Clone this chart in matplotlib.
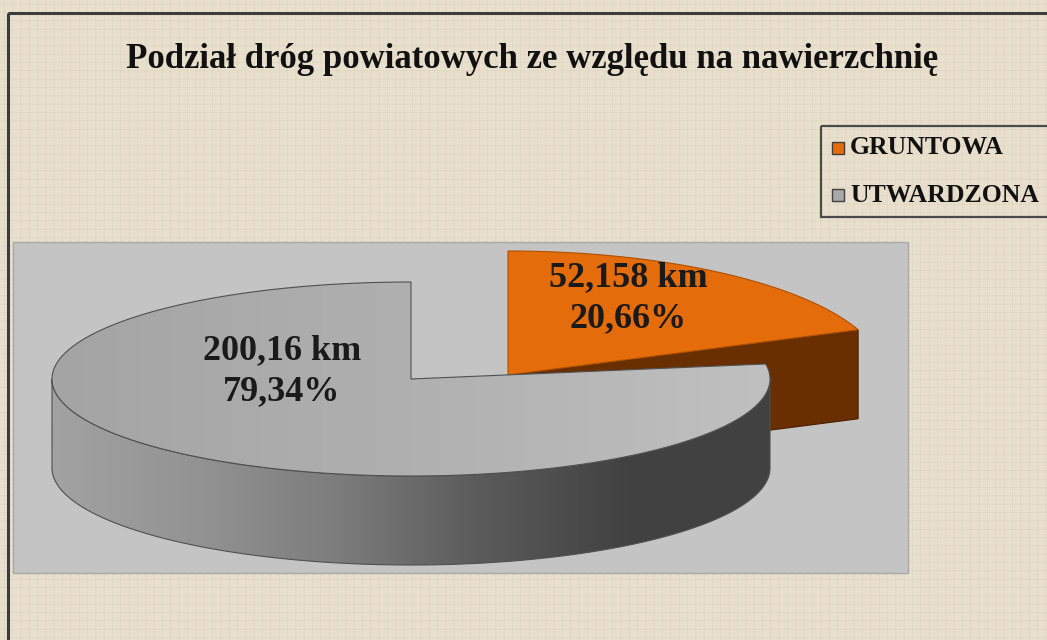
import matplotlib
matplotlib.use("Agg")
import matplotlib.pyplot as plt
import numpy as np
from matplotlib.patches import Polygon, Rectangle
from matplotlib.colors import LinearSegmentedColormap

title = "Podział dróg powiatowych ze względu na nawierzchnię"
categories = ["GRUNTOWA", "UTWARDZONA"]
lengths_km = [52.158, 200.16]
shares_pct = [20.66, 79.34]
slice_colors = ["#e46c0a", "#a8a8a8"]

# layout in pixel units (axes spans the whole figure)
W, H = 1047, 640
fig = plt.figure(figsize=(W / 100, H / 100), dpi=100)
fig.patch.set_facecolor("#e8dfcc")
ax = fig.add_axes([0, 0, 1, 1])
ax.set_xlim(0, W)
ax.set_ylim(H, 0)
ax.axis("off")

# faint linen texture + outer frame
plt.rcParams["hatch.linewidth"] = 0.5
ax.add_patch(Rectangle((0, 0), W, H, facecolor="none", edgecolor="#e0d5c1",
                       hatch="++", lw=0, zorder=0))
ax.add_patch(Rectangle((8, 13), 1200, 800, facecolor="none",
                       edgecolor="#3c3c3c", lw=2.2, zorder=1))

# plot area
ax.add_patch(Rectangle((13, 242), 895, 331, facecolor="#c4c4c4",
                       edgecolor="#a8a8a8", lw=1, zorder=2))

ax.text(532, 59, title, ha="center", va="center", fontsize=25,
        fontweight="bold", family="Liberation Serif", color="#111111", zorder=5)


def ellipse_pts(cx, cy, a, b, t0, t1, skew=1.0, n=240):
    # skew mimics the perspective distortion of the 3-D view
    t = np.radians(np.linspace(t0, t1, n))
    t = np.arctan2(np.sin(t) * skew, np.cos(t))
    t = np.unwrap(t)
    return np.column_stack([cx + a * np.cos(t), cy - b * np.sin(t)])


# slice angles: start at 12 o'clock, clockwise
fracs = np.array(shares_pct) / sum(shares_pct)
start = 90.0
ang = []
for f in fracs:
    ang.append((start, start - 360 * f))
    start -= 360 * f

depth = 89

# ---- exploded slice (GRUNTOWA) ----
ocx, ocy, oa, ob, osk = 508, 375, 376, 124, 1.4
t0, t1 = ang[0]
corner = ellipse_pts(ocx, ocy, oa, ob, t1, t1, osk, 1)[0]
side = [(ocx, ocy), corner, (corner[0], corner[1] + depth), (ocx, ocy + depth)]
ax.add_patch(Polygon(side, closed=True, facecolor="#6a2f00",
                     edgecolor="#4a2000", lw=0.8, zorder=3))
top = np.vstack([[ocx, ocy], ellipse_pts(ocx, ocy, oa, ob, t0, t1, osk)])
ax.add_patch(Polygon(top, closed=True, facecolor=slice_colors[0],
                     edgecolor="#b05000", lw=0.8, zorder=4))

# ---- main slice (UTWARDZONA) ----
gcx, gcy, ga, gb, gsk = 411, 379, 359, 97, 0.56
t0, t1 = ang[1]
front_top = ellipse_pts(gcx, gcy, ga, gb, -180, 0)
front_bot = front_top[::-1] + [0, depth]
side_poly = Polygon(np.vstack([front_top, front_bot]), closed=True,
                    facecolor="none", edgecolor="#505050", lw=0.8, zorder=7)
ax.add_patch(side_poly)
side_cmap = LinearSegmentedColormap.from_list(
    "side", ["#a2a2a2", "#939393", "#7c7c7c", "#5a5a5a", "#424242", "#414141"])
grad = np.linspace(0, 1, 256).reshape(1, -1)
im = ax.imshow(grad, cmap=side_cmap, aspect="auto",
               extent=(gcx - ga, gcx + ga, gcy + gb + depth, gcy - gb), zorder=6)
im.set_clip_path(side_poly)

top_pts = np.vstack([[gcx, gcy], ellipse_pts(gcx, gcy, ga, gb, t0, t1, gsk)])
top_poly = Polygon(top_pts, closed=True, facecolor="none",
                   edgecolor="#505050", lw=0.8, zorder=9)
ax.add_patch(top_poly)
top_cmap = LinearSegmentedColormap.from_list("top", ["#a4a4a4", "#b0b0b0", "#c0c0c0"])
im2 = ax.imshow(grad, cmap=top_cmap, aspect="auto",
                extent=(gcx - ga, gcx + ga, gcy + gb, gcy - gb), zorder=8)
im2.set_clip_path(top_poly)


# data labels
def fmt(v):
    return str(v).replace(".", ",")


lab_pos = [(628, 298), (282, 371)]
for (x, y), km, p in zip(lab_pos, lengths_km, shares_pct):
    ax.text(x, y, f"{fmt(km)} km\n{p:.2f}%".replace(".", ","), ha="center",
            va="center", fontsize=26, fontweight="bold", family="Liberation Serif",
            color="#1a1a1a", linespacing=1.3, zorder=10)

# legend
ax.add_patch(Rectangle((821, 126), 300, 91, facecolor="none",
                       edgecolor="#4a4a4a", lw=1.6, zorder=5))
for i, (name, col) in enumerate(zip(categories, slice_colors)):
    y = 148 + i * 47
    ax.add_patch(Rectangle((832, y - 6), 12, 12, facecolor=col,
                           edgecolor="#404040", lw=1, zorder=6))
    ax.text(850, y, name, ha="left", va="center", fontsize=18.5,
            fontweight="bold", family="Liberation Serif", color="#111111", zorder=6)

fig.savefig("out.png", dpi=100, facecolor=fig.get_facecolor())
